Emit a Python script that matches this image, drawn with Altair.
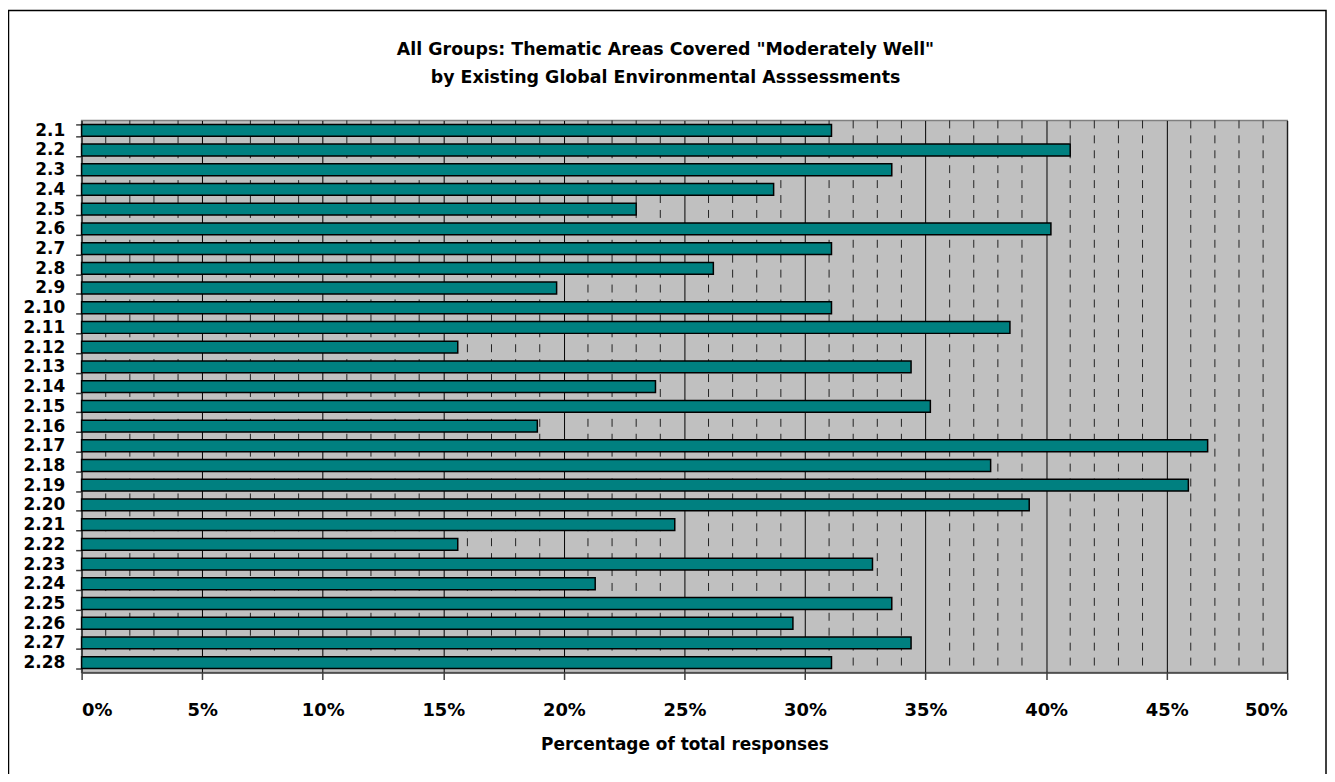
import altair as alt
import pandas as pd

categories = ["2.1", "2.2", "2.3", "2.4", "2.5", "2.6", "2.7", "2.8", "2.9", "2.10",
              "2.11", "2.12", "2.13", "2.14", "2.15", "2.16", "2.17", "2.18", "2.19", "2.20",
              "2.21", "2.22", "2.23", "2.24", "2.25", "2.26", "2.27", "2.28"]
values = [31.1, 41.0, 33.6, 28.7, 23.0, 40.2, 31.1, 26.2, 19.7, 31.1,
          38.5, 15.6, 34.4, 23.8, 35.2, 18.9, 46.7, 37.7, 45.9, 39.3,
          24.6, 15.6, 32.8, 21.3, 33.6, 29.5, 34.4, 31.1]
major_ticks = [0, 5, 10, 15, 20, 25, 30, 35, 40, 45, 50]
minor_ticks = [v for v in range(1, 50) if v % 5 != 0]
title_lines = ['All Groups: Thematic Areas Covered "Moderately Well"',
               "by Existing Global Environmental Asssessments"]
x_title = "Percentage of total responses"

FONT = "DejaVu Sans"

df = pd.DataFrame({"item": categories, "pct": values})
minor_df = pd.DataFrame({"pct": minor_ticks})

xscale = alt.Scale(domain=[0, 50], nice=False, zero=True)

minor = alt.Chart(minor_df).mark_rule(
    color="#222222", strokeWidth=1, strokeDash=[8, 7]
).encode(x=alt.X("pct:Q", scale=xscale))

bars = alt.Chart(df).mark_bar(
    color="#008080", stroke="#000000", strokeWidth=1.5
).encode(
    x=alt.X("pct:Q", scale=xscale,
            axis=alt.Axis(values=major_ticks, labelExpr="datum.value + '%'",
                          title=x_title,
                          grid=True, gridColor="#000000", gridWidth=1,
                          tickSize=7, tickColor="#404040", tickWidth=1.5,
                          domainColor="#404040", domainWidth=1.5,
                          labelFont=FONT, labelFontSize=18, labelFontWeight="bold",
                          labelColor="#000000", labelPadding=22,
                          titleFont=FONT, titleFontSize=17, titleFontWeight="bold",
                          titleColor="#000000", titlePadding=17)),
    y=alt.Y("item:N", sort=categories,
            scale=alt.Scale(paddingInner=0.4, paddingOuter=0.2),
            axis=alt.Axis(title=None, tickBand="extent", tickSize=6,
                          tickColor="#404040", tickWidth=1.5,
                          domainColor="#404040", domainWidth=1.5,
                          labelFont=FONT, labelFontSize=17, labelFontWeight="bold",
                          labelColor="#000000", labelPadding=11, grid=False)),
)

border = alt.Chart(alt.Data(values=[{}])).mark_rect(
    fillOpacity=0, stroke="#000000", strokeWidth=1.5
).encode(
    x=alt.value(-73.5), x2=alt.value(1251),
    y=alt.value(-110.5), y2=alt.value(720),
)

def title_line(text, ypos):
    return alt.Chart(alt.Data(values=[{"t": text}])).mark_text(
        font=FONT, fontSize=17.5, fontWeight="bold", color="#000000",
        align="center", baseline="middle"
    ).encode(text="t:N", x=alt.value(587), y=alt.value(ypos))

chart = alt.layer(
    minor, bars, border,
    title_line(title_lines[0], -71),
    title_line(title_lines[1], -43),
).properties(
    width=1212,
    height=555,
    autosize=alt.AutoSizeParams(type="none"),
    padding={"left": 74, "top": 111, "right": 40, "bottom": 100},
).configure_view(
    fill="#C0C0C0", stroke="#808080", strokeWidth=1.5
)

chart.save("out.html", embed_options={"renderer": "svg", "actions": False})
